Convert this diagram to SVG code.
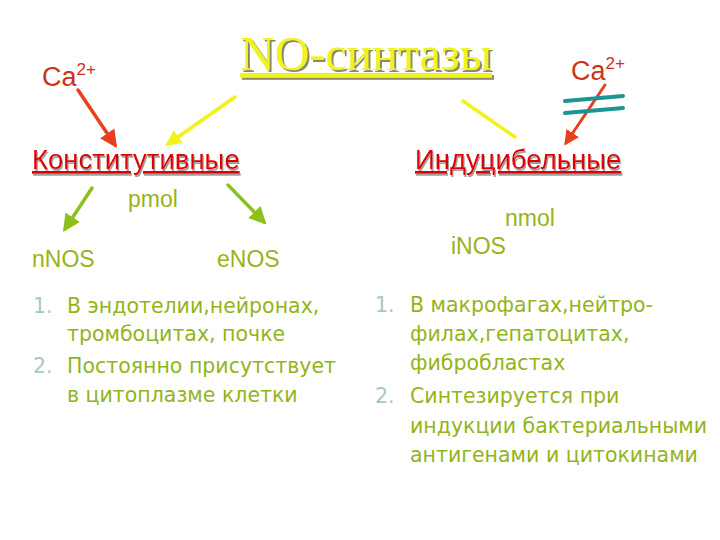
<svg xmlns="http://www.w3.org/2000/svg" width="720" height="540" viewBox="0 0 720 540">
<style>
.ca{font-family:"Liberation Sans",Arial,sans-serif;font-size:27px;fill:#cc3318}
.sup{font-size:17px}
.hd{font-family:"Liberation Sans",Arial,sans-serif;font-size:27.5px;fill:#e00000;text-decoration:underline}
.gr{font-family:"Liberation Sans",Arial,sans-serif;font-size:23px;fill:#99b318}
.li{font-family:"DejaVu Sans",Verdana,sans-serif;font-size:20.5px;fill:#93b41a}
.num{fill:#a9c6c8}
.title{font-family:"Liberation Serif","Times New Roman",serif;font-size:48px;fill:#f2f21a;text-decoration:underline}
</style>
<defs>
<filter id="sh" x="-5%" y="-20%" width="115%" height="150%">
<feOffset in="SourceAlpha" dx="2" dy="2" result="o"/>
<feFlood flood-color="#8a8a6a"/>
<feComposite in2="o" operator="in" result="s"/>
<feMerge><feMergeNode in="s"/><feMergeNode in="SourceGraphic"/></feMerge>
</filter>
<filter id="sh2" x="-5%" y="-20%" width="115%" height="150%">
<feOffset in="SourceAlpha" dx="1" dy="2" result="o"/>
<feFlood flood-color="#a0a0a0"/>
<feComposite in2="o" operator="in" result="s"/>
<feMerge><feMergeNode in="s"/><feMergeNode in="SourceGraphic"/></feMerge>
</filter>
<marker id="arR" viewBox="0 0 10 10" refX="8" refY="5" markerWidth="5" markerHeight="5" orient="auto"><path d="M0,0 L10,5 L0,10 z" fill="#e8401c"/></marker>
<marker id="arY" viewBox="0 0 10 10" refX="8" refY="5" markerWidth="4.5" markerHeight="4.5" orient="auto"><path d="M0,0 L10,5 L0,10 z" fill="#f2f21a"/></marker>
<marker id="arG" viewBox="0 0 10 10" refX="8" refY="5" markerWidth="5" markerHeight="5" orient="auto"><path d="M0,0 L10,5 L0,10 z" fill="#8cc01a"/></marker>
</defs>
<rect width="720" height="540" fill="#ffffff"/>

<g id="title">
<text class="title" x="240" y="70" filter="url(#sh)">NO-синтазы</text>
</g>

<g id="ca-left"><text class="ca" x="42" y="86">Ca<tspan class="sup" dy="-11">2+</tspan></text></g>
<g id="ca-right"><text class="ca" x="571" y="80">Ca<tspan class="sup" dy="-11">2+</tspan></text></g>

<g id="konst">
<text class="hd" x="32" y="169" filter="url(#sh2)">Конститутивные</text>
</g>
<g id="induc">
<text class="hd" x="415" y="169" filter="url(#sh2)">Индуцибельные</text>
</g>

<g id="pmol"><text class="gr" x="128" y="207">pmol</text></g>
<g id="nnos"><text class="gr" x="32" y="267">nNOS</text></g>
<g id="enos"><text class="gr" x="217" y="267">eNOS</text></g>
<g id="nmol"><text class="gr" x="505" y="226">nmol</text></g>
<g id="inos"><text class="gr" x="451" y="254">iNOS</text></g>

<g id="list-left" class="li">
<text x="33" y="313"><tspan class="num">1.</tspan><tspan x="67">В эндотелии,нейронах,</tspan></text>
<text x="67" y="341">тромбоцитах, почке</text>
<text x="33" y="373"><tspan class="num">2.</tspan><tspan x="67">Постоянно присутствует</tspan></text>
<text x="67" y="402">в цитоплазме клетки</text>
</g>

<g id="list-right" class="li">
<text x="375" y="312"><tspan class="num">1.</tspan><tspan x="410">В макрофагах,нейтро-</tspan></text>
<text x="410" y="341">филах,гепатоцитах,</text>
<text x="410" y="370">фибробластах</text>
<text x="375" y="403"><tspan class="num">2.</tspan><tspan x="410">Синтезируется при</tspan></text>
<text x="410" y="433">индукции бактериальными</text>
<text x="410" y="462">антигенами и цитокинами</text>
</g>

<g id="connectors" fill="none" stroke-linecap="round">
<line x1="78" y1="90" x2="115" y2="145" stroke="#e8401c" stroke-width="3.5" marker-end="url(#arR)"/>
<line x1="235" y1="97" x2="168" y2="144" stroke="#f2f21a" stroke-width="3.5" marker-end="url(#arY)"/>
<line x1="463" y1="101" x2="515" y2="137" stroke="#f2f21a" stroke-width="3.5"/>
<line x1="605" y1="85" x2="566" y2="143" stroke="#e8401c" stroke-width="3" marker-end="url(#arR)"/>
<line x1="565" y1="101" x2="623" y2="96" stroke="#1a9494" stroke-width="4"/>
<line x1="565" y1="113" x2="623" y2="108" stroke="#1a9494" stroke-width="4"/>
<line x1="92" y1="188" x2="65" y2="229" stroke="#8cc01a" stroke-width="3.5" marker-end="url(#arG)"/>
<line x1="228" y1="185" x2="264" y2="222" stroke="#8cc01a" stroke-width="3.5" marker-end="url(#arG)"/>
</g>
</svg>
